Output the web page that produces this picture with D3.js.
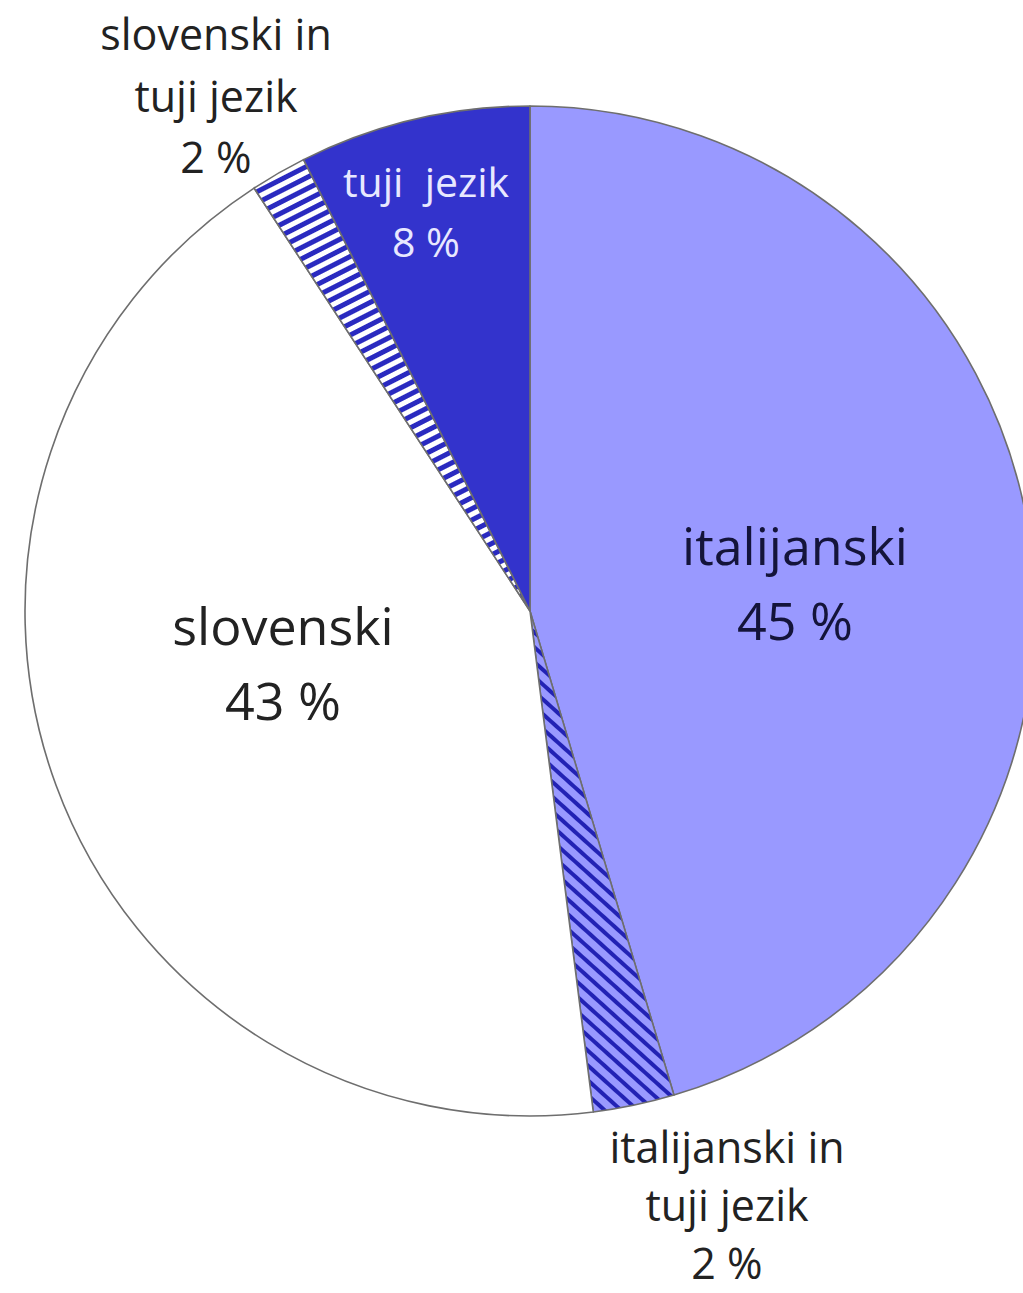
<!DOCTYPE html>
<html>
<head>
<meta charset="utf-8">
<script src="https://cdn.jsdelivr.net/npm/d3@7"></script>
<style>
  body { margin: 0; background: #fff; }
  svg { display: block; }
  text { font-family: "Open Sans", "Noto Sans", sans-serif; }
</style>
</head>
<body>
<svg width="1023" height="1293"></svg>
<script>
// shares, clockwise from 12 o'clock
var categories = ["italijanski", "italijanski in tuji jezik", "slovenski", "slovenski in tuji jezik", "tuji jezik"];
var values = [45.4, 2.6, 42.8, 1.8, 7.4];
var percentLabels = ["45 %", "2 %", "43 %", "2 %", "8 %"];
var labelLines = [["italijanski"], ["italijanski in", "tuji jezik"], ["slovenski"], ["slovenski in", "tuji jezik"], ["tuji  jezik"]];

var svg = d3.select("svg");
var cx = 530, cy = 611, radius = 505;

var defs = svg.append("defs");

function stripes(id, bg, fg, angle, gap, thick) {
    var p = defs.append("pattern")
        .attr("id", id)
        .attr("patternUnits", "userSpaceOnUse")
        .attr("width", gap).attr("height", gap)
        .attr("patternTransform", "rotate(" + angle + ")");
    p.append("rect").attr("width", gap).attr("height", gap).attr("fill", bg);
    p.append("rect").attr("y", 0).attr("width", gap).attr("height", thick).attr("fill", fg);
}
stripes("hatchIt", "#9999ff", "#2222b4", 42, 11, 4);
stripes("hatchSl", "#ffffff", "#2a2ac0", -27, 10, 5);

var fills = ["#9999ff", "url(#hatchIt)", "#ffffff", "url(#hatchSl)", "#3333cc"];

var pie = d3.pie().sort(null).value(d => d);
var arcs = pie(values);
var arc = d3.arc().innerRadius(0).outerRadius(radius);

var g = svg.append("g").attr("transform", "translate(" + cx + "," + cy + ")");

g.selectAll("path")
    .data(arcs)
    .enter()
    .append("path")
    .attr("d", arc)
    .attr("fill", (d, i) => fills[i])
    .attr("stroke", "#6e6e6e")
    .attr("stroke-width", 1.6)
    .attr("stroke-linejoin", "round");

// label anchors (first baseline), sizes and colours per slice
var labelStyle = [
    { x: 795, y: 565, size: 52, lh: 75, color: "#14143a" },
    { x: 727, y: 1163, size: 43, lh: 58, color: "#222" },
    { x: 283, y: 645, size: 52, lh: 75, color: "#222" },
    { x: 216, y: 50, size: 43, lh: 61.5, color: "#222" },
    { x: 426, y: 197, size: 41, lh: 60, color: "#e8e8ff" }
];

var labels = svg.append("g")
    .selectAll("text")
    .data(arcs)
    .enter()
    .append("text")
    .attr("text-anchor", "middle")
    .attr("fill", (d, i) => labelStyle[i].color)
    .attr("font-size", (d, i) => labelStyle[i].size)
    .attr("x", (d, i) => labelStyle[i].x)
    .attr("y", (d, i) => labelStyle[i].y)
    .style("white-space", "pre");

labels.each(function(d, i) {
    var t = d3.select(this);
    var lines = labelLines[i].concat([percentLabels[i]]);
    lines.forEach((line, j) => {
        t.append("tspan")
            .attr("x", labelStyle[i].x)
            .attr("dy", j === 0 ? 0 : labelStyle[i].lh)
            .text(line);
    });
});
</script>
</body>
</html>
